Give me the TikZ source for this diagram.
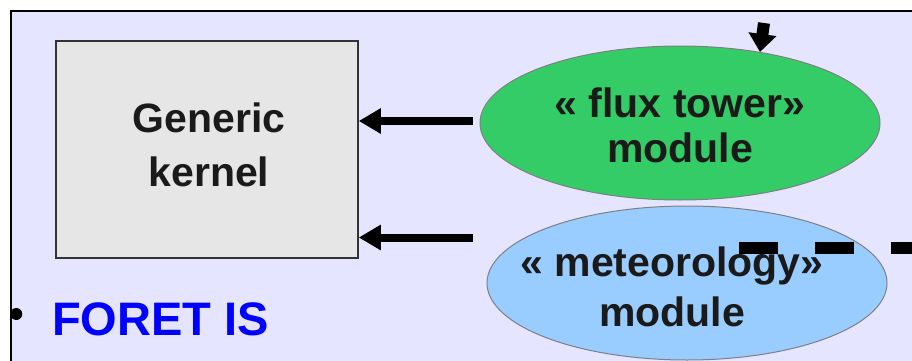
\documentclass[tikz,border=0pt]{standalone}
\usepackage{fontspec}
\setmainfont{Liberation Sans}
\usetikzlibrary{arrows.meta,shapes.geometric}
\definecolor{framebg}{RGB}{229,229,255}
\definecolor{kernelfill}{RGB}{230,230,230}
\definecolor{fluxgreen}{RGB}{51,204,102}
\definecolor{meteoblue}{RGB}{153,204,255}
\definecolor{txt}{RGB}{26,26,26}
\definecolor{edgegray}{RGB}{128,128,128}
\definecolor{foretblue}{RGB}{0,0,255}
\tikzset{
  kernelbox/.style={draw=black!80, line width=1.5pt, fill=kernelfill, inner sep=0pt,
    minimum width=302pt, minimum height=217pt},
  modell/.style={ellipse, draw=edgegray, line width=1pt, inner sep=0pt,
    minimum width=400pt, minimum height=154pt},
  bigtext/.style={text=txt, font=\bfseries, align=center, inner sep=0pt},
  leftarrow/.style={line width=8pt, -{Triangle[width=24pt,length=22pt]}},
  downarrow/.style={line width=12pt, -{Triangle[width=27pt,length=18pt]}},
  dashbar/.style={line width=12pt, dash pattern=on 39pt off 37pt}
}
\begin{document}
\begin{tikzpicture}[x=1pt,y=-1pt]
\useasboundingbox (0,0) rectangle (912,361);
\clip (0,0) rectangle (912,361);
\fill[white] (0,0) rectangle (912,361);
\draw[line width=2pt, fill=framebg] (10.5,11.5) rectangle (960,420);

\node[kernelbox] (kernel) at (207,149.5) {};
\node[bigtext, font=\bfseries\fontsize{41}{54}\selectfont] (kerneltext) at (209,145) {Generic\\kernel};

\node[modell, fill=fluxgreen] (flux) at (680,123) {};
\node[bigtext, font=\bfseries\fontsize{41}{45}\selectfont] (fluxtext) at (680,125.5) {« flux tower»\\module};

\node[modell, fill=meteoblue] (meteo) at (687,283) {};
\node[bigtext, font=\bfseries\fontsize{41}{50}\selectfont] (meteotext) at (672,287) {« meteorology»\\module};

\coordinate (a1) at (473,121);
\coordinate (a2) at (473,237.5);
\draw[leftarrow] (a1) -- (a1 -| kernel.east);
\draw[leftarrow] (a2) -- (a2 -| kernel.east);

\coordinate (dtop) at (764,23);
\coordinate (dtip) at (760,52);
\draw[downarrow] (dtop) -- (dtip);

\coordinate (dashstart) at (739,248);
\coordinate (dashend) at (960,248);
\draw[dashbar] (dashstart) -- (dashend);

\node[circle, fill=black, inner sep=0pt, minimum size=12pt] (bullet) at (16.3,314) {};
\node[anchor=base west, inner sep=0pt, text=foretblue, font=\bfseries\fontsize{47}{56}\selectfont] (foret) at (52,335) {FORET IS};
\end{tikzpicture}
\end{document}
